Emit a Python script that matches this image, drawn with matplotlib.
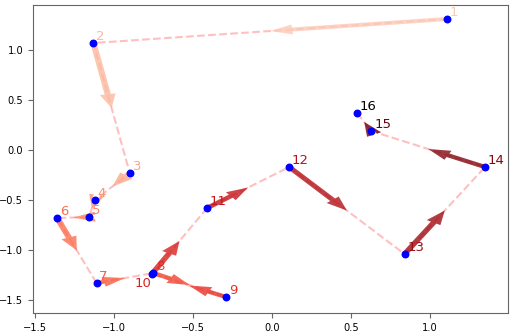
import matplotlib
matplotlib.use("Agg")
import matplotlib.pyplot as plt
import numpy as np

# path points
xs = [1.11, -1.13, -0.90, -1.12, -1.16, -1.36, -1.11, -0.75, -0.29, -0.76,
      -0.41, 0.11, 0.84, 1.35, 0.63, 0.54]
ys = [1.31, 1.07, -0.23, -0.50, -0.67, -0.68, -1.33, -1.23, -1.47, -1.24,
      -0.58, -0.17, -1.04, -0.17, 0.19, 0.37]
labels = [str(i) for i in range(1, 17)]


def main():
    fig, ax = plt.subplots(figsize=(5.15, 3.33), dpi=100)
    fig.subplots_adjust(left=0.064, right=0.986, top=0.985, bottom=0.06)

    n = len(xs)
    colors = plt.cm.Reds(np.linspace(0.2, 1.0, n - 1))

    # dashed path
    ax.plot(xs, ys, ls="--", color="r", alpha=0.25, lw=1.5, zorder=1)

    # labels
    for i in range(n):
        c = colors[i] if i < n - 1 else "k"
        if labels[i] == "10":
            ax.annotate(labels[i], (xs[i], ys[i]), xytext=(0, -2), textcoords="offset points",
                        ha="right", va="top", color=c, fontsize=9.5, zorder=2)
        else:
            ax.annotate(labels[i], (xs[i], ys[i]), xytext=(2, 0), textcoords="offset points",
                        ha="left", va="bottom", color=c, fontsize=9.5, zorder=2)

    # arrows from each point halfway to the next (data-unit widths)
    for i in range(n - 1):
        dx = (xs[i + 1] - xs[i]) / 2
        dy = (ys[i + 1] - ys[i]) / 2
        ax.arrow(xs[i], ys[i], dx, dy, width=0.04, head_width=0.1, head_length=0.14,
                 length_includes_head=True, color=colors[i], alpha=0.8, lw=0, zorder=3)

    ax.scatter(xs, ys, s=22, color="blue", zorder=4)

    ax.set_xlim(-1.513, 1.494)
    ax.set_ylim(-1.63, 1.45)
    ax.set_xticks([-1.5, -1.0, -0.5, 0.0, 0.5, 1.0])
    ax.set_yticks([-1.5, -1.0, -0.5, 0.0, 0.5, 1.0])
    ax.tick_params(labelsize=7.1, color="0.4", length=3.5)
    for s in ax.spines.values():
        s.set_color("0.4")

    plt.savefig("out.png")


if __name__ == "__main__":
    main()
